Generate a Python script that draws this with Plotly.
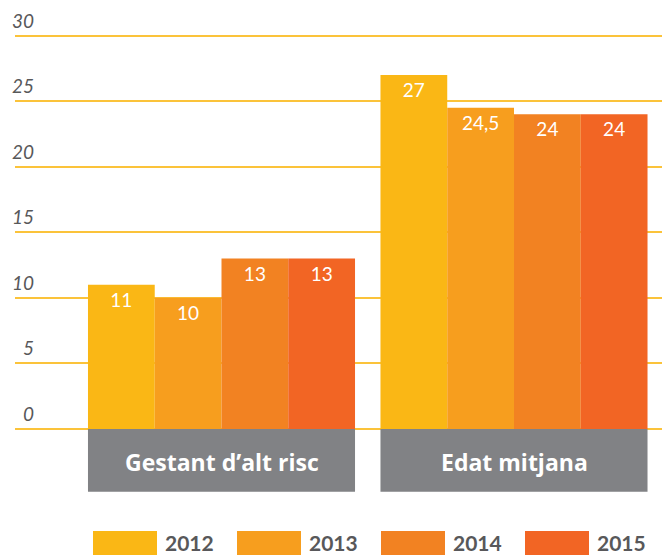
import plotly.graph_objects as go

# Data
categories = ["Gestant d’alt risc", "Edat mitjana"]
years = ["2012", "2013", "2014", "2015"]
values = {
    "2012": [11, 27],
    "2013": [10, 24.5],
    "2014": [13, 24],
    "2015": [13, 24],
}
tick_values = [0, 5, 10, 15, 20, 25, 30]

colors = {"2012": "#FAB715", "2013": "#F79E1E", "2014": "#F28222", "2015": "#F26524"}
grid_color = "#FBC33A"
band_color = "#818285"
text_gray = "#58585A"
font_family = "Lato"
label_family = "Open Sans"

W, H = 662, 555
ML, MR, MT, MB = 15, 0, 0, 55
plot_w = W - ML - MR
plot_h = H - MT - MB


def px_x(px):
    return (px - ML) / plot_w


def px_y(py):
    return (MT + plot_h - py) / plot_h


xpos = list(range(len(categories)))
group_half = 0.4565

fig = go.Figure()
for yr in years:
    fig.add_trace(go.Bar(
        x=xpos,
        y=values[yr],
        name=yr,
        marker=dict(color=colors[yr], line=dict(width=0)),
        texttemplate="%{y:.1~f}",
        textposition="inside",
        insidetextanchor="end",
        textangle=0,
        textfont=dict(family=font_family, size=19, color="white"),
        showlegend=False,
        hoverinfo="skip",
    ))

shapes = []
annotations = []

# Category bands under the bar groups
for i, cat in enumerate(categories):
    shapes.append(dict(type="rect", xref="x", yref="y",
                       x0=i - group_half, x1=i + group_half, y0=0, y1=-4.8,
                       fillcolor=band_color, line=dict(width=0), layer="above"))
    annotations.append(dict(x=i, y=-2.5, xref="x", yref="y", text=cat,
                            showarrow=False,
                            font=dict(family=label_family, size=23, color="white",
                                      weight="bold")))

# Y tick labels sitting above each gridline
for v in tick_values:
    annotations.append(dict(x=px_x(36), y=v, xref="paper", yref="y", text=str(v),
                            showarrow=False, xanchor="right", yanchor="bottom",
                            yshift=2,
                            font=dict(family=font_family, size=19, color=text_gray,
                                      style="italic")))

# Legend row
sw_left = [93, 237, 381, 525]
for yr, lx in zip(years, sw_left):
    shapes.append(dict(type="rect", xref="paper", yref="paper",
                       x0=px_x(lx), x1=px_x(lx + 64), y0=px_y(531), y1=px_y(560),
                       fillcolor=colors[yr], line=dict(width=0)))
    annotations.append(dict(x=px_x(lx + 70), y=px_y(542), xref="paper", yref="paper",
                            text=yr, showarrow=False, xanchor="left", yanchor="middle",
                            font=dict(family=font_family, size=21, color=text_gray,
                                      weight="bold")))

fig.update_layout(
    width=W, height=H,
    margin=dict(l=ML, r=MR, t=MT, b=MB),
    paper_bgcolor="white", plot_bgcolor="white",
    barmode="group", bargap=0.087, bargroupgap=0,
    separators=",.",
    xaxis=dict(range=[-0.706, 1.506], showticklabels=False, showgrid=False,
               zeroline=False, showline=False, ticks=""),
    yaxis=dict(range=[-5.42, 32.72], tickvals=tick_values, showticklabels=False,
               showgrid=True, gridcolor=grid_color, gridwidth=2,
               zeroline=False, showline=False, ticks=""),
    shapes=shapes,
    annotations=annotations,
    showlegend=False,
)

fig.write_html("out.html")
